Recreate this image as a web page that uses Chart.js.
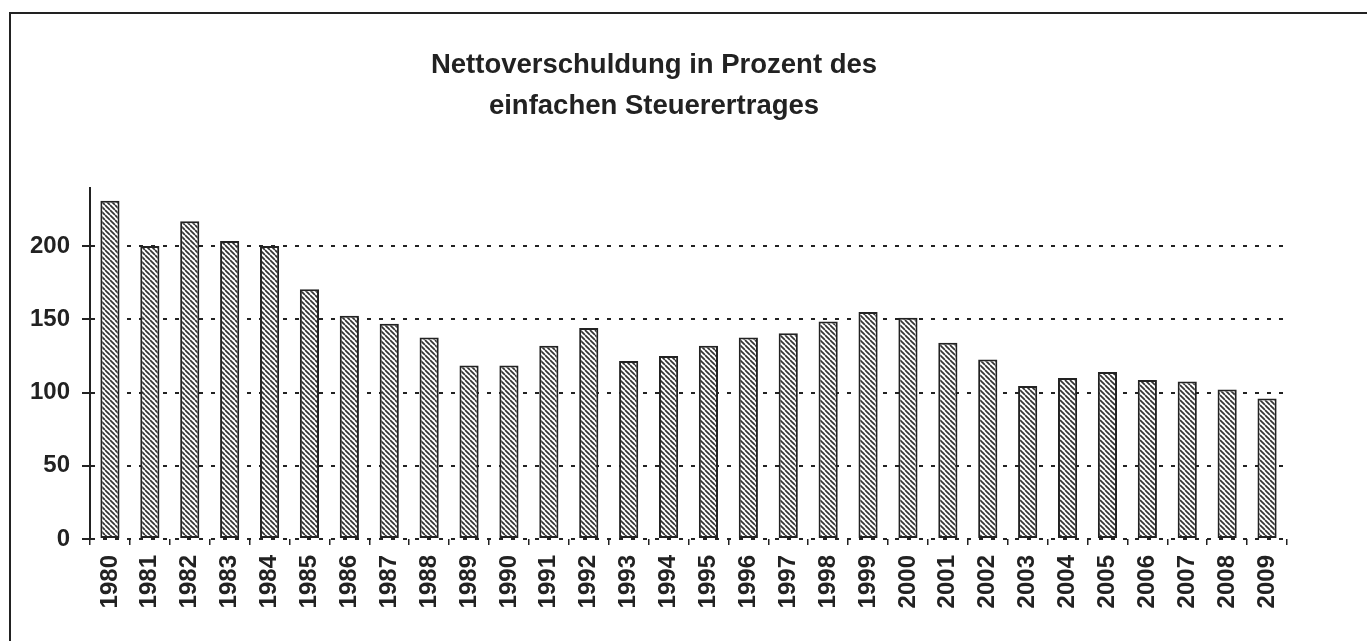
<!DOCTYPE html>
<html>
<head>
<meta charset="utf-8">
<script src="https://cdn.jsdelivr.net/npm/chart.js@4.4.0/dist/chart.umd.min.js"></script>
<style>
  html, body { margin: 0; padding: 0; background: #fff; overflow: hidden; }
  #frame {
    position: absolute; left: 9px; top: 12px;
    width: 1400px; height: 700px;
    border: 2px solid #222; box-sizing: border-box;
  }
  #wrap { position: absolute; left: 0; top: 0; width: 1367px; height: 641px; }
</style>
</head>
<body>
<div id="frame"></div>
<div id="wrap"><canvas id="debtChart"></canvas></div>
<script>
const years = [
  "1980", "1981", "1982", "1983", "1984", "1985", "1986", "1987", "1988", "1989",
  "1990", "1991", "1992", "1993", "1994", "1995", "1996", "1997", "1998", "1999",
  "2000", "2001", "2002", "2003", "2004", "2005", "2006", "2007", "2008", "2009",
];
const debtPercent = [
  231, 200, 217, 203.5, 200, 170.5, 152.5, 147, 137.5, 118.5,
  118.5, 132, 144, 121.5, 125, 132, 137.5, 140.5, 148.5, 155,
  151, 134, 122.5, 104.5, 110, 114, 108.5, 107.5, 102, 96,
];
const yTickValues = [0, 50, 100, 150, 200];
const titleLines = ["Nettoverschuldung in Prozent des", "einfachen Steuerertrages"];

const ink = "#222";
Chart.defaults.font.family = "'Liberation Sans', Arial, sans-serif";
Chart.defaults.color = ink;

// diagonal hatch used as bar fill
function makeHatch(ctx) {
  const tile = document.createElement("canvas");
  tile.width = 5;
  tile.height = 5;
  const c = tile.getContext("2d");
  c.fillStyle = "#fff";
  c.fillRect(0, 0, 5, 5);
  c.strokeStyle = "#333";
  c.lineWidth = 1.7;
  for (let k = -1; k <= 1; k++) {
    c.beginPath();
    c.moveTo(k * 5, 0);
    c.lineTo(k * 5 + 5, 5);
    c.stroke();
  }
  return ctx.createPattern(tile, "repeat");
}

const canvas = document.getElementById("debtChart");
const ctx = canvas.getContext("2d");

const chart = new Chart(ctx, {
  type: "bar",
  data: {
    labels: years,
    datasets: [
      {
        data: debtPercent,
        backgroundColor: makeHatch(ctx),
        borderColor: ink,
        borderWidth: 2,
        borderSkipped: false,
        categoryPercentage: 1,
        barPercentage: 0.48,
      },
    ],
  },
  options: {
    responsive: true,
    maintainAspectRatio: false,
    animation: false,
    layout: { padding: { left: 21, right: 80, top: 0, bottom: 0 } },
    plugins: {
      legend: { display: false },
      tooltip: { enabled: false },
      title: {
        display: true,
        text: titleLines,
        color: ink,
        font: { size: 27.5, weight: "bold", lineHeight: 1.5 },
        padding: { top: 45, bottom: 60 },
      },
    },
    scales: {
      x: {
        grid: {
          offset: true,
          drawOnChartArea: false,
          tickLength: 6,
          color: ink,
          lineWidth: 1.5,
        },
        border: { display: false },
        ticks: {
          color: ink,
          font: { size: 24, weight: "bold" },
          minRotation: 90,
          maxRotation: 90,
          autoSkip: false,
          padding: 10,
        },
        afterFit: (scale) => {
          scale.height = 102;
        },
      },
      y: {
        min: 0,
        max: 240,
        afterBuildTicks: (scale) => {
          scale.ticks = yTickValues.map((v) => ({ value: v }));
        },
        grid: {
          color: ink,
          lineWidth: 2,
          tickLength: 8,
          tickBorderDash: [],
        },
        border: { display: true, color: ink, width: 2, dash: [4, 8] },
        ticks: {
          color: ink,
          font: { size: 24, weight: "bold" },
          padding: 12,
        },
        afterFit: (scale) => {
          scale.width = 69;
        },
      },
    },
  },
});
</script>
</body>
</html>
